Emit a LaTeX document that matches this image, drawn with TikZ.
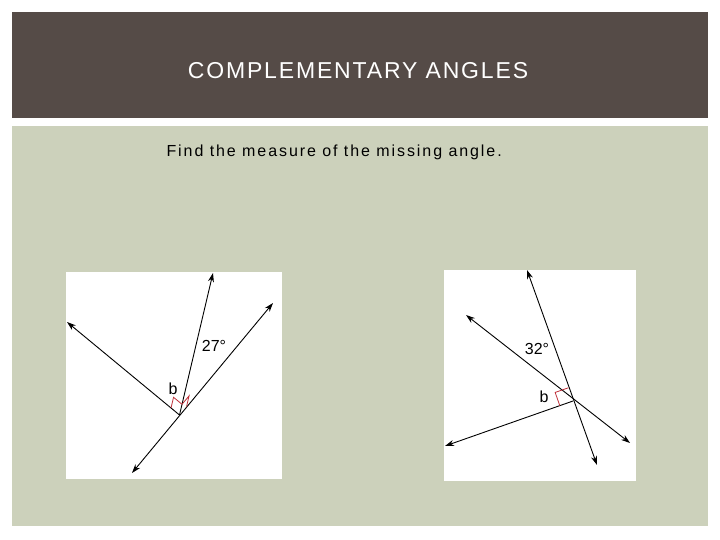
\documentclass[tikz,border=0pt]{standalone}
\usepackage{fontspec}
\setmainfont{Liberation Sans}
\usetikzlibrary{calc,arrows.meta}
\definecolor{hdr}{HTML}{554B47}
\definecolor{bg}{HTML}{CCD1BB}
\definecolor{mk}{HTML}{C0303A}
\tikzset{ray/.style={line width=0.9pt,-{Stealth[length=9pt,width=6pt]}},
 dray/.style={line width=0.9pt,{Stealth[length=9pt,width=6pt]}-{Stealth[length=9pt,width=6pt]}},
 rmark/.style={draw=mk,line width=0.8pt},
 lbl/.style={font=\fontsize{16}{16}\selectfont}}
\begin{document}
\begin{tikzpicture}[x=1pt,y=-1pt]
\useasboundingbox (0,0) rectangle (720,540);
\fill[white] (0,0) rectangle (720,540);
\fill[hdr] (12,12) rectangle (708,118);
\fill[bg] (12,126) rectangle (708,526);
\node[text=white,font=\fontsize{23}{23}\selectfont] (title) at (358,71) {\addfontfeature{LetterSpace=8}COMPLEMENTARY ANGLES};
\node[anchor=west,font=\fontsize{16}{16}\selectfont] (sub) at (163,152) {\addfontfeature{LetterSpace=12}Find the measure of the missing angle.};
% left figure
\fill[white] (66,272) rectangle (282,479);
\coordinate (v1) at (179.5,415);
\coordinate (t1) at (213,273);
\coordinate (l1) at (67,322);
\coordinate (r1) at (273,303);
\coordinate (d1) at (132,473);
\draw[ray] (v1) -- (t1);
\draw[ray] (v1) -- (l1);
\draw[dray] (d1) -- (r1);
\coordinate (pa) at ($(v1)!11pt!(l1)$);
\coordinate (pb) at ($(v1)!11pt!(t1)$);
\coordinate (pc) at ($(v1)!11pt!(r1)$);
\draw[rmark] (pa) -- ($(pa)+(pb)-(v1)$) -- (pb);
\draw[rmark] (pb) -- ($(pb)+(pc)-(v1)$) -- (pc);
\node[lbl] (a1) at (214,346) {27°};
\node[lbl] (b1) at (173,389) {b};
% right figure
\fill[white] (444,270) rectangle (636,481);
\coordinate (v2) at (573,401);
\coordinate (s1) at (527,270);
\coordinate (s2) at (597,465);
\coordinate (e1) at (466,315);
\coordinate (e2) at (630,443);
\coordinate (w2) at (445,446);
\draw[dray] (s1) -- (s2);
\draw[dray] (e1) -- (e2);
\draw[ray] (v2) -- (w2);
\coordinate (qa) at ($(v2)!14pt!(w2)$);
\coordinate (qb) at ($(v2)!14pt!(s1)$);
\draw[rmark] (qa) -- ($(qa)+(qb)-(v2)$) -- (qb);
\node[lbl] (a2) at (537,349) {32°};
\node[lbl] (b2) at (544,397) {b};
\end{tikzpicture}
\end{document}
